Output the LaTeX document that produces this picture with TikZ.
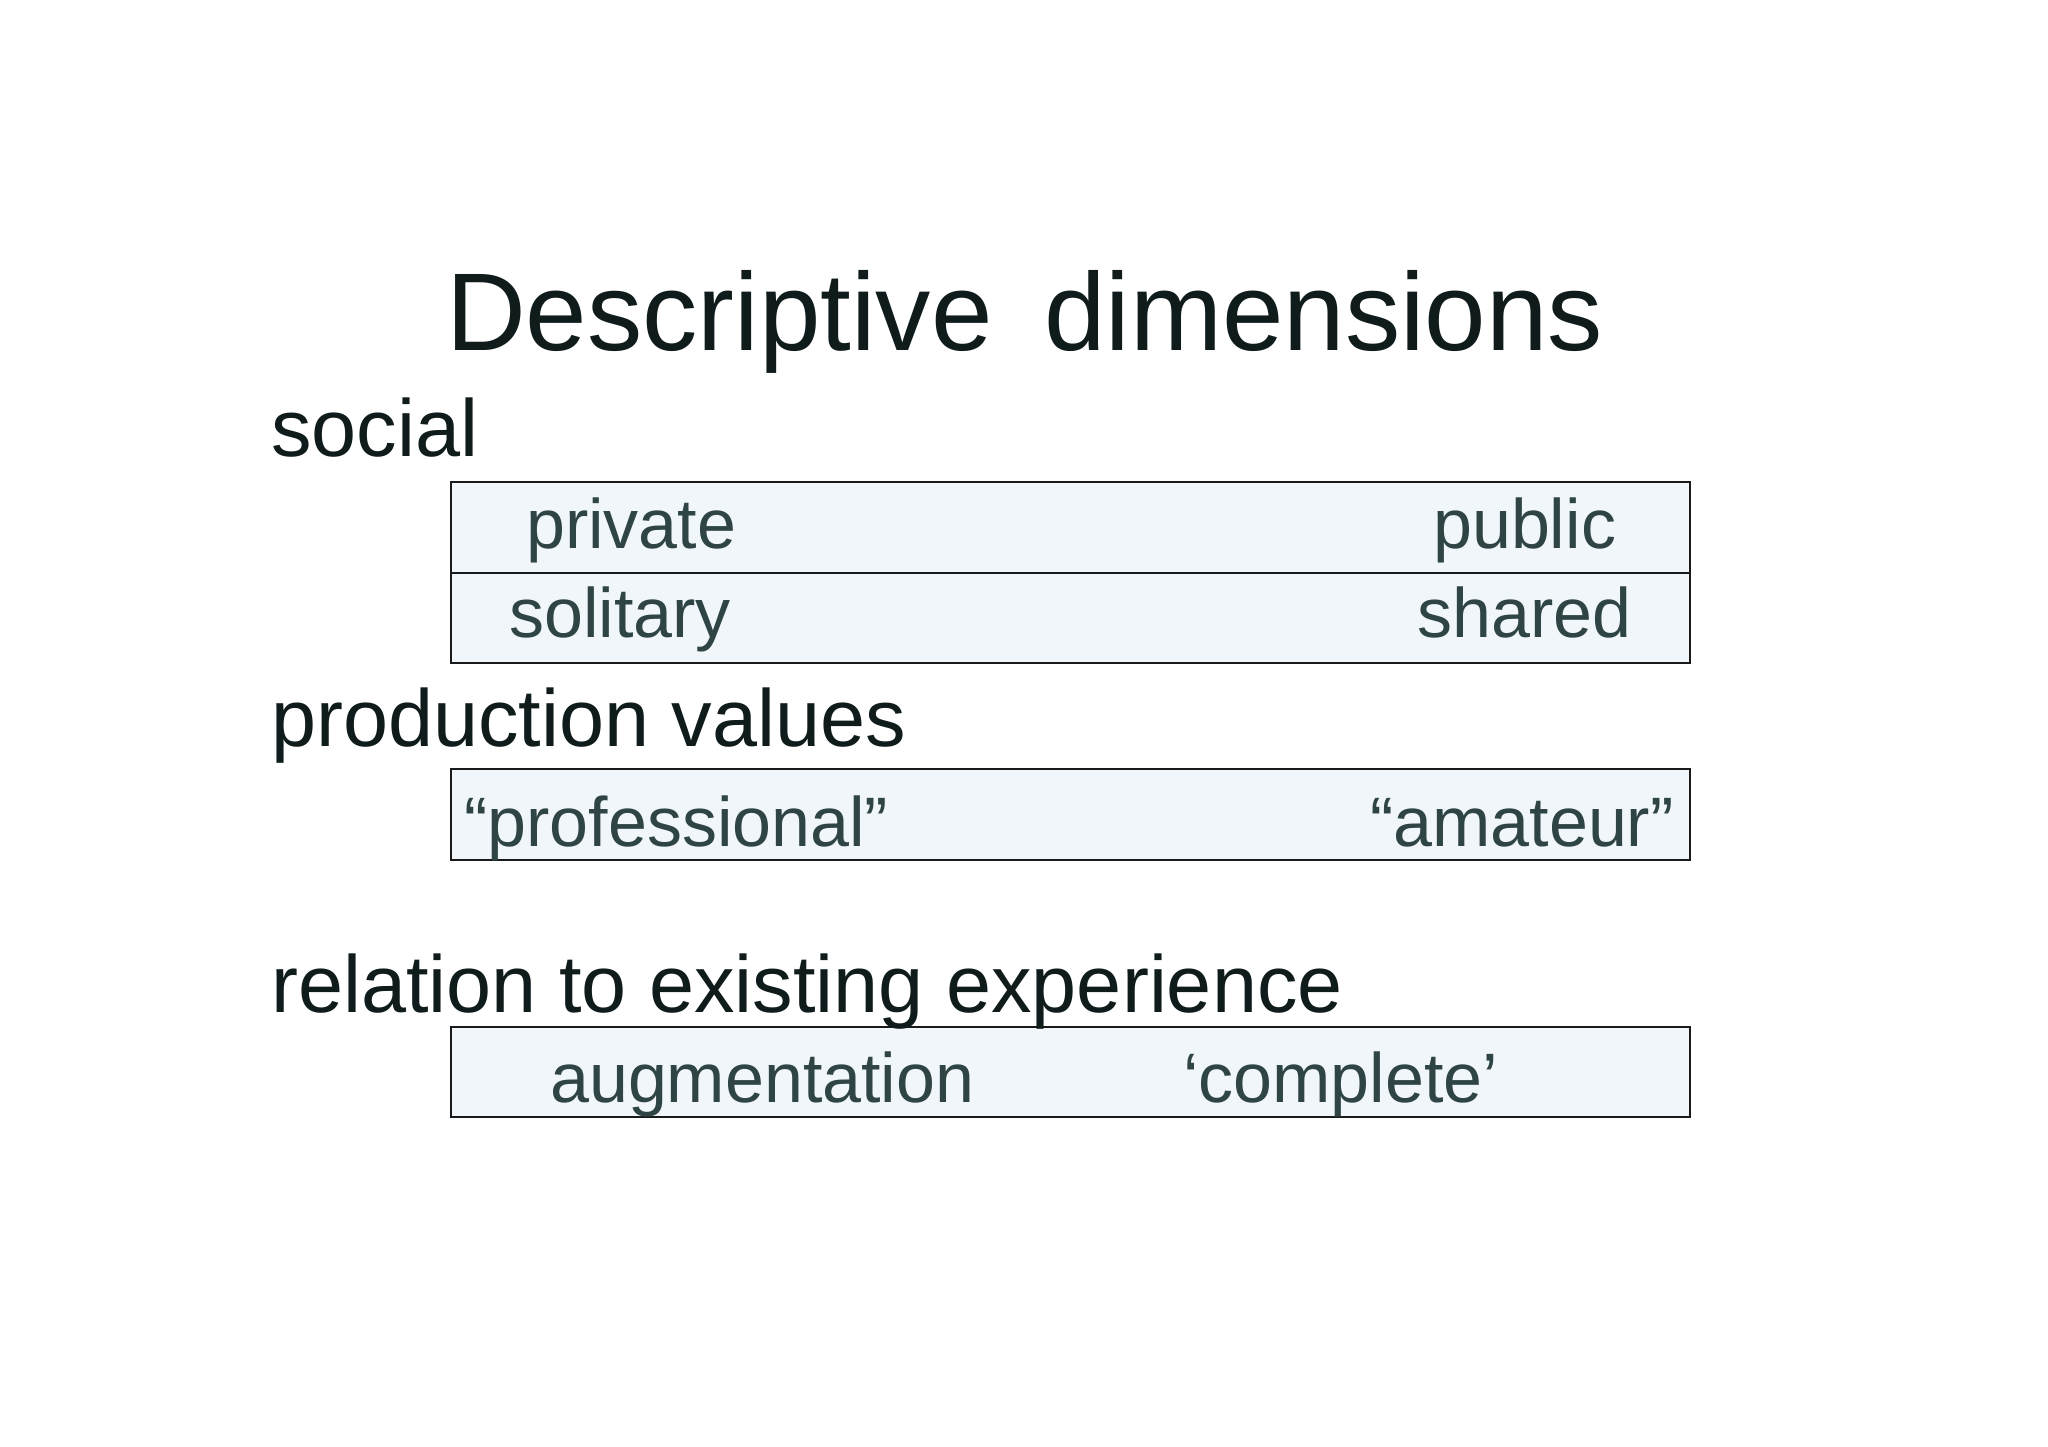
\documentclass[tikz,border=0pt]{standalone}
\usepackage{fontspec}
\setmainfont{Liberation Sans}
\definecolor{headcol}{HTML}{101C1C}
\definecolor{boxtext}{HTML}{2F4444}
\definecolor{boxfill}{HTML}{F0F6FA}
\definecolor{boxline}{HTML}{1A1A1A}
\begin{document}
\begin{tikzpicture}[x=1bp,y=-1bp,
  title/.style={anchor=base west,inner sep=0pt,text=headcol,font=\fontsize{110.5bp}{120bp}\selectfont},
  head/.style={anchor=base west,inner sep=0pt,text=headcol,font=\fontsize{81bp}{90bp}\selectfont},
  item/.style={anchor=base west,inner sep=0pt,text=boxtext,font=\fontsize{70bp}{80bp}\selectfont},
  bar/.style={draw=boxline,fill=boxfill,line width=2bp,anchor=north west,minimum width=1239bp,inner sep=0pt}]
\useasboundingbox (0,0) rectangle (2048,1447);
% boxes
\node[bar,minimum height=91bp] (b1) at (450,481) {};
\node[bar,minimum height=90bp] (b2) at (450,572) {};
\node[bar,minimum height=91bp] (b3) at (450,768) {};
\node[bar,minimum height=90bp] (b4) at (450,1026) {};
% title
\node[title] (t1) at (446,350) {Descriptive};
\node[title] (t2) at (1044,350) {dimensions};
% headings
\node[head] (h1) at (271,456) {social};
\node[head] (h2) at (271,746) {production values};
\node[head] (h3) at (271,1012) {relation to existing experience};
% items
\node[item] (i1) at (526,548) {private};
\node[item] (i2) at (1433,548) {public};
\node[item] (i3) at (509,637) {solitary};
\node[item] (i4) at (1417,637) {shared};
\node[item] (i5) at (464,846) {“professional”};
\node[item] (i6) at (1370,846) {“amateur”};
\node[item] (i7) at (550,1102) {augmentation};
\node[item] (i8) at (1183,1102) {‘complete’};
\end{tikzpicture}
\end{document}
